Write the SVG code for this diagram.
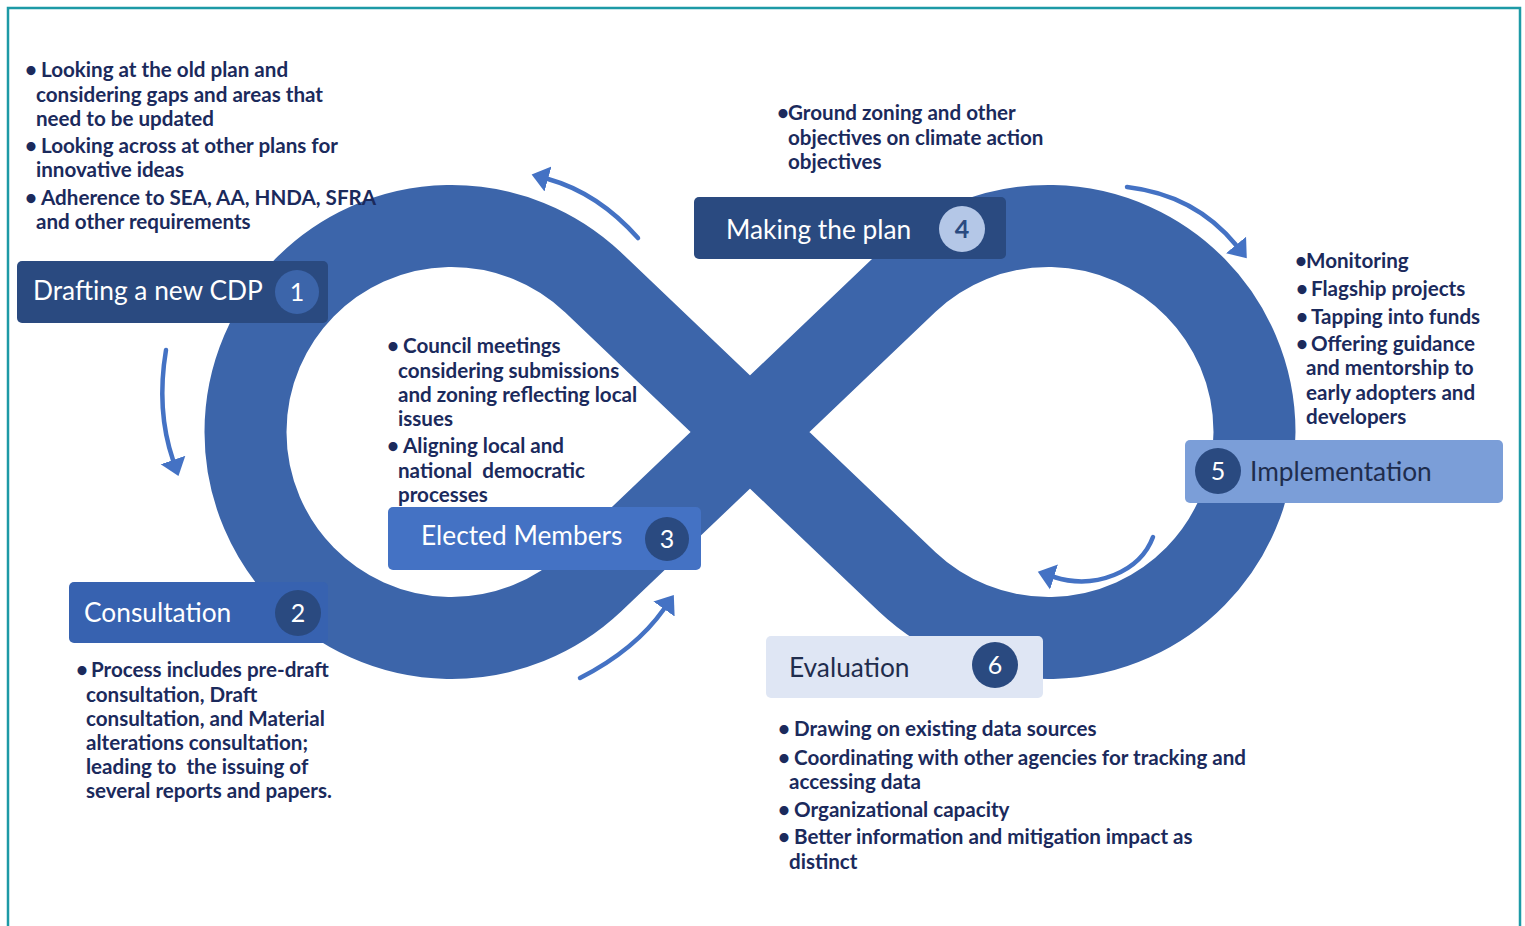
<svg xmlns="http://www.w3.org/2000/svg" width="1525" height="926" viewBox="0 0 1525 926">
<style>
.band{fill:none;stroke:#3c65aa;stroke-width:82;stroke-linejoin:round}
.arr{fill:none;stroke:#4472c4;stroke-width:4.5;stroke-linecap:round}
.lbl{font-family:Lato,"Open Sans",sans-serif;font-size:26.3px}
.num{font-family:Lato,"Open Sans",sans-serif;font-size:25px;text-anchor:middle}
.blt{font-family:Lato,"Open Sans",sans-serif;font-size:20.6px;font-weight:bold;fill:#1b2a5c}
</style>
<defs>
<marker id="ah" markerUnits="userSpaceOnUse" viewBox="0 -14 18 28" refX="0" refY="0" markerWidth="18" markerHeight="28" orient="auto">
<path d="M0,-13 L17,0 L0,13 Z" fill="#4472c4"/>
</marker>
</defs>
<rect x="0" y="0" width="1525" height="926" fill="#ffffff"/>
<path d="M8,940 L8,8 L1520,8 L1520,940" fill="none" stroke="#1d9aa6" stroke-width="2.5"/>
<g id="infinity">
<path class="band" d="M592.8,282.1 L907.2,581.9 A206 206 0 1 0 907.2,282.1 L592.8,581.9 A206 206 0 1 1 592.8,282.1 Z"/>
</g>
<g id="connectors">
<path class="arr" d="M638,238 Q598,193 548,179" marker-end="url(#ah)"/>
<path class="arr" d="M1127,187 Q1195,195 1236,245" marker-end="url(#ah)"/>
<path class="arr" d="M1153,537 C1140,572 1095,590 1054,577" marker-end="url(#ah)"/>
<path class="arr" d="M580,678 Q635,650 664,609" marker-end="url(#ah)"/>
<path class="arr" d="M166,350 Q156,410 173,460" marker-end="url(#ah)"/>
</g>
<g id="node1">
<rect x="17" y="261" width="311" height="62" rx="5" fill="#2a4a80"/>
<text class="lbl" x="33" y="300" fill="#ffffff">Drafting a new CDP</text>
<circle cx="297" cy="292" r="22" fill="#3c65aa"/>
<text class="num" x="297" y="301" fill="#ffffff">1</text>
</g>
<g id="node2">
<rect x="69" y="582" width="259" height="61" rx="5" fill="#3762b0"/>
<text class="lbl" x="84" y="622" fill="#ffffff">Consultation</text>
<circle cx="298" cy="613" r="23" fill="#2a4a80"/>
<text class="num" x="298" y="622" fill="#ffffff">2</text>
</g>
<g id="node3">
<rect x="388" y="507" width="313" height="63" rx="5" fill="#4472c4"/>
<text class="lbl" x="421" y="545" fill="#ffffff">Elected Members</text>
<circle cx="667" cy="539" r="22" fill="#2a4a80"/>
<text class="num" x="667" y="548" fill="#ffffff">3</text>
</g>
<g id="node4">
<rect x="694" y="197" width="312" height="62" rx="5" fill="#2a4a80"/>
<text class="lbl" x="726" y="239" fill="#ffffff">Making the plan</text>
<circle cx="962" cy="229" r="23" fill="#b4c7e7"/>
<text class="num" x="962" y="238" fill="#2a4a80" font-weight="bold">4</text>
</g>
<g id="node5">
<rect x="1185" y="440" width="318" height="63" rx="5" fill="#7b9ed8"/>
<text class="lbl" x="1250" y="481" fill="#1f2d4d">Implementation</text>
<circle cx="1218" cy="471" r="23" fill="#2a4a80"/>
<text class="num" x="1218" y="480" fill="#ffffff">5</text>
</g>
<g id="node6">
<rect x="766" y="636" width="277" height="62" rx="5" fill="#dfe6f4"/>
<text class="lbl" x="789" y="677" fill="#1f2d4d">Evaluation</text>
<circle cx="995" cy="665" r="23" fill="#2a4a80"/>
<text class="num" x="995" y="674" fill="#ffffff">6</text>
</g>
<g id="notes1">
<text class="blt"><tspan x="25" y="77">•</tspan><tspan x="41" y="77">Looking at the old plan and</tspan><tspan x="36" y="102">considering gaps and areas that</tspan><tspan x="36" y="126">need to be updated</tspan><tspan x="25" y="153">•</tspan><tspan x="41" y="153">Looking across at other plans for</tspan><tspan x="36" y="177">innovative ideas</tspan><tspan x="25" y="205">•</tspan><tspan x="41" y="205">Adherence to SEA, AA, HNDA, SFRA</tspan><tspan x="36" y="229">and other requirements</tspan></text>
</g>
<g id="notes4">
<text class="blt"><tspan x="777" y="120">•</tspan><tspan x="788" y="120">Ground zoning and other</tspan><tspan x="788" y="145">objectives on climate action</tspan><tspan x="788" y="169">objectives</tspan></text>
</g>
<g id="notes5">
<text class="blt"><tspan x="1295" y="268">•</tspan><tspan x="1306" y="268">Monitoring</tspan><tspan x="1296" y="296">•</tspan><tspan x="1311" y="296">Flagship projects</tspan><tspan x="1296" y="324">•</tspan><tspan x="1311" y="324">Tapping into funds</tspan><tspan x="1296" y="351">•</tspan><tspan x="1311" y="351">Offering guidance</tspan><tspan x="1306" y="375">and mentorship to</tspan><tspan x="1306" y="400">early adopters and</tspan><tspan x="1306" y="424">developers</tspan></text>
</g>
<g id="notes3">
<text class="blt" xml:space="preserve"><tspan x="387" y="353">•</tspan><tspan x="403" y="353">Council meetings</tspan><tspan x="398" y="378">considering submissions</tspan><tspan x="398" y="402">and zoning reflecting local</tspan><tspan x="398" y="426">issues</tspan><tspan x="387" y="453">•</tspan><tspan x="403" y="453">Aligning local and</tspan><tspan x="398" y="478">national  democratic</tspan><tspan x="398" y="502">processes</tspan></text>
</g>
<g id="notes2">
<text class="blt" xml:space="preserve"><tspan x="76" y="677">•</tspan><tspan x="91" y="677">Process includes pre-draft</tspan><tspan x="86" y="702">consultation, Draft</tspan><tspan x="86" y="726">consultation, and Material</tspan><tspan x="86" y="750">alterations consultation;</tspan><tspan x="86" y="774">leading to  the issuing of</tspan><tspan x="86" y="798">several reports and papers.</tspan></text>
</g>
<g id="notes6">
<text class="blt"><tspan x="778" y="736">•</tspan><tspan x="794" y="736">Drawing on existing data sources</tspan><tspan x="778" y="765">•</tspan><tspan x="794" y="765">Coordinating with other agencies for tracking and</tspan><tspan x="789" y="789">accessing data</tspan><tspan x="778" y="817">•</tspan><tspan x="794" y="817">Organizational capacity</tspan><tspan x="778" y="844">•</tspan><tspan x="794" y="844">Better information and mitigation impact as</tspan><tspan x="789" y="869">distinct</tspan></text>
</g>
</svg>
